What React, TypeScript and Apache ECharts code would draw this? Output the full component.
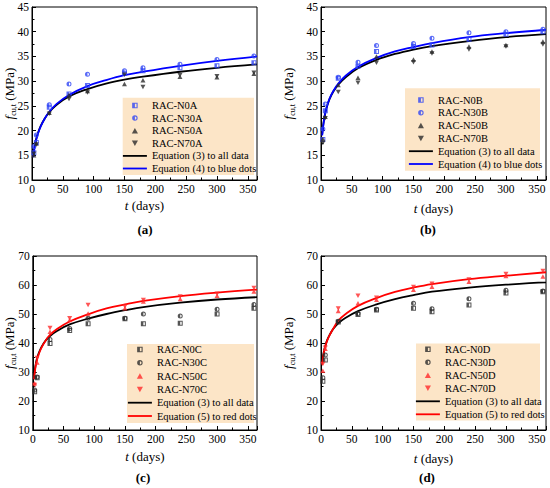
import React, { useEffect, useRef } from "react";
import * as echarts from "echarts";

// Test ages (days)
const ages = [3, 7, 28, 60, 90, 150, 180, 240, 300, 360];
const fitAges = [2, 3, 5, 7, 10, 14, 20, 28, 40, 60, 90, 120, 150, 180, 240, 300, 365];
const xTicks = [0, 50, 100, 150, 200, 250, 300, 350];

// Panel (a)
const n0A = [15.5, 17.6, 24.7, 27.4, 29.1, 31.6, 32.1, 32.7, 33.1, 33.7];
const n30A = [16.8, 19.1, 25.2, 29.4, 31.4, 32.1, 32.7, 33.4, 34.4, 35.1];
const n50A = [15.0, 17.4, 23.6, 27.2, 28.0, 29.4, 30.2, 30.9, 30.8, 31.5];
const n70A = [15.3, 17.2, 23.4, 26.4, 27.7, 31.3, 28.8, 31.2, 31.0, 31.7];
const eq3A = [14.8, 15.8, 17.3, 18.4, 19.6, 20.9, 22.3, 23.7, 25.2, 26.9, 28.4, 29.5, 30.3, 30.9, 31.9, 32.7, 33.4];
const eq4A = [14.6, 15.6, 17.1, 18.2, 19.5, 20.8, 22.3, 23.8, 25.4, 27.2, 29.0, 30.2, 31.2, 31.9, 33.1, 34.1, 35.0];

// Panel (b)
const n0B = [18.2, 24.0, 30.6, 33.0, 36.0, 37.0, 37.3, 38.5, 39.5, 40.0];
const n30B = [20.3, 25.4, 30.8, 33.8, 37.2, 37.6, 38.7, 39.8, 40.0, 40.5];
const n50B = [18.3, 22.8, 29.2, 30.7, 35.0, 34.4, 36.0, 37.0, 37.3, 38.0];
const n70B = [17.5, 22.5, 27.8, 29.7, 33.7, 33.8, 35.6, 36.4, 37.0, 37.4];
const eq3B = [19.3, 20.5, 22.3, 23.6, 25.0, 26.4, 27.9, 29.3, 30.8, 32.6, 34.3, 35.5, 36.4, 37.1, 38.1, 38.9, 39.5];
const eq4B = [19.0, 20.3, 22.2, 23.6, 25.0, 26.5, 28.0, 29.5, 31.1, 32.9, 34.7, 36.0, 36.9, 37.7, 38.9, 39.7, 40.4];

// Panel (c)
const n0C = [23.2, 28.0, 39.8, 44.3, 46.6, 48.4, 46.6, 46.8, 50.0, 52.0];
const n30C = [23.8, 28.3, 41.2, 45.0, 48.5, 48.5, 50.0, 49.3, 51.6, 53.3];
const n50C = [26.1, 33.3, 43.9, 47.9, 50.2, 52.0, 54.3, 55.2, 56.3, 57.8];
const n70C = [25.5, 34.8, 45.2, 48.5, 53.1, 52.6, 54.8, 56.0, 57.0, 59.0];
const eq3C = [28.0, 30.0, 33.0, 34.8, 36.7, 38.6, 40.6, 42.4, 44.2, 46.4, 48.4, 50.0, 51.3, 52.4, 53.9, 55.0, 55.8];
const eq5C = [27.5, 29.5, 32.5, 34.3, 36.3, 38.3, 40.5, 42.8, 44.9, 47.4, 49.9, 51.9, 53.3, 54.5, 56.2, 57.4, 58.4];

// Panel (d)
const n0D = [26.8, 34.1, 47.2, 49.8, 51.4, 52.0, 50.8, 53.1, 57.2, 57.7];
const n30D = [28.0, 35.9, 47.5, 50.2, 51.6, 53.7, 51.8, 55.3, 58.2, 57.9];
const n50D = [30.4, 38.0, 51.0, 53.7, 54.9, 58.4, 59.4, 61.1, 63.1, 62.9];
const n70D = [32.8, 38.4, 51.9, 56.3, 55.6, 59.3, 60.4, 61.9, 63.8, 64.8];
const eq3D = [33.0, 35.0, 37.5, 39.0, 41.0, 42.8, 44.9, 46.8, 48.7, 51.0, 53.3, 55.1, 56.5, 57.7, 59.1, 60.1, 60.9];
const eq5D = [32.5, 34.5, 37.0, 38.8, 40.8, 42.7, 45.0, 47.7, 50.0, 52.8, 55.5, 57.6, 59.1, 60.3, 62.0, 63.2, 64.4];

const EQ3 = "Equation (3) to all data";
const EQ4 = "Equation (4) to blue dots";
const EQ5 = "Equation (5) to red dots";

const FONT = "'Liberation Serif', 'Times New Roman', serif";
const BLUE = "#2f45f5";
const BLACK_M = "#2a2a2a";
const RED = "#ff2a2a";
const LEGEND_BG = "#fce5c7";

// Marker shapes (half-filled square / circle like the original plotting style)
const SQUARE_HALF = "path://M0,0H10V10H0Z M5,2V8H8V2Z";
const CIRCLE_HALF = "path://M5,0A5,5 0 1 1 5,10A5,5 0 1 1 5,0Z M5,2L5,8A3,3 0 0 0 5,2Z";
const TRI_UP = "path://M5,0L10,9H0Z";
const TRI_DOWN = "path://M0,0H10L5,9Z";

type Mk = { name: string; data: number[]; symbol: string; color: string };
type Fit = { name: string; data: number[]; color: string };

const panels = [
  {
    grid: { left: 32, top: 7, width: 225, height: 173 },
    y: { min: 10, max: 45, interval: 5 },
    yNameGap: 14.5, xNameGap: 18,
    caption: "(a)", cx: 145, cy: 229,
    box: { x: 122.7, y: 97.7, w: 131.3, h: 77.3 },
    legend: { left: 122, top: 99.5, gap: 0.6 },
    marks: [
      { name: "RAC-N0A", data: n0A, symbol: SQUARE_HALF, color: BLUE },
      { name: "RAC-N30A", data: n30A, symbol: CIRCLE_HALF, color: BLUE },
      { name: "RAC-N50A", data: n50A, symbol: TRI_UP, color: BLACK_M },
      { name: "RAC-N70A", data: n70A, symbol: TRI_DOWN, color: BLACK_M },
    ] as Mk[],
    fits: [
      { name: EQ3, data: eq3A, color: "#000" },
      { name: EQ4, data: eq4A, color: "#0000ff" },
    ] as Fit[],
  },
  {
    grid: { left: 321, top: 7, width: 225, height: 173 },
    y: { min: 10, max: 45, interval: 5 },
    yNameGap: 25, xNameGap: 21,
    caption: "(b)", cx: 428, cy: 229,
    box: { x: 405, y: 88.3, w: 135, h: 82.4 },
    legend: { left: 408, top: 94, gap: 0.8 },
    marks: [
      { name: "RAC-N0B", data: n0B, symbol: SQUARE_HALF, color: BLUE },
      { name: "RAC-N30B", data: n30B, symbol: CIRCLE_HALF, color: BLUE },
      { name: "RAC-N50B", data: n50B, symbol: TRI_UP, color: BLACK_M },
      { name: "RAC-N70B", data: n70B, symbol: TRI_DOWN, color: BLACK_M },
    ] as Mk[],
    fits: [
      { name: EQ3, data: eq3B, color: "#000" },
      { name: EQ4, data: eq4B, color: "#0000ff" },
    ] as Fit[],
  },
  {
    grid: { left: 32, top: 256, width: 225, height: 174 },
    y: { min: 10, max: 70, interval: 10 },
    yNameGap: 15.8, xNameGap: 19.5,
    caption: "(c)", cx: 143, cy: 477,
    box: { x: 127, y: 344, w: 127, h: 79 },
    legend: { left: 127, top: 343.5, gap: 1.3 },
    marks: [
      { name: "RAC-N0C", data: n0C, symbol: SQUARE_HALF, color: BLACK_M },
      { name: "RAC-N30C", data: n30C, symbol: CIRCLE_HALF, color: BLACK_M },
      { name: "RAC-N50C", data: n50C, symbol: TRI_UP, color: RED },
      { name: "RAC-N70C", data: n70C, symbol: TRI_DOWN, color: RED },
    ] as Mk[],
    fits: [
      { name: EQ3, data: eq3C, color: "#000" },
      { name: EQ5, data: eq5C, color: "#ff0000" },
    ] as Fit[],
  },
  {
    grid: { left: 321, top: 256, width: 225, height: 174 },
    y: { min: 10, max: 70, interval: 10 },
    yNameGap: 25, xNameGap: 21,
    caption: "(d)", cx: 427, cy: 477,
    box: { x: 416, y: 343.5, w: 124, h: 77 },
    legend: { left: 415, top: 343.3, gap: 1 },
    marks: [
      { name: "RAC-N0D", data: n0D, symbol: SQUARE_HALF, color: BLACK_M },
      { name: "RAC-N30D", data: n30D, symbol: CIRCLE_HALF, color: BLACK_M },
      { name: "RAC-N50D", data: n50D, symbol: TRI_UP, color: RED },
      { name: "RAC-N70D", data: n70D, symbol: TRI_DOWN, color: RED },
    ] as Mk[],
    fits: [
      { name: EQ3, data: eq3D, color: "#000" },
      { name: EQ5, data: eq5D, color: "#ff0000" },
    ] as Fit[],
  },
];

function buildOption() {
  const grid: any[] = [];
  const xAxis: any[] = [];
  const yAxis: any[] = [];
  const series: any[] = [];
  const legend: any[] = [];
  const graphic: any[] = [];

  const tickCommon = {
    axisLine: { show: true, onZero: false, lineStyle: { color: "#000", width: 1 } },
    axisTick: { show: true, inside: true, length: 4, lineStyle: { color: "#000", width: 1 } },
    minorTick: { show: true, splitNumber: 2, length: 2.5, lineStyle: { color: "#000", width: 1 } },
    splitLine: { show: false },
  };

  panels.forEach((p, i) => {
    grid.push({ ...p.grid, show: true, borderColor: "#000", borderWidth: 1, backgroundColor: "transparent" });
    xAxis.push({
      gridIndex: i,
      type: "value",
      min: 0,
      max: 365,
      interval: 50,
      ...tickCommon,
      axisLabel: {
        fontFamily: FONT,
        fontSize: 11.5,
        color: "#000",
        margin: 3,
        formatter: (v: number) => (xTicks.indexOf(v) >= 0 ? String(v) : ""),
      },
      name: "{i|t} (days)",
      nameLocation: "middle",
      nameGap: p.xNameGap,
      nameMoveOverlap: false,
      nameTextStyle: {
        fontFamily: FONT,
        fontSize: 13,
        color: "#000",
        lineHeight: 14,
        rich: { i: { fontFamily: FONT, fontSize: 13, fontStyle: "italic", color: "#000", lineHeight: 14 } },
      },
    });
    yAxis.push({
      gridIndex: i,
      type: "value",
      min: p.y.min,
      max: p.y.max,
      interval: p.y.interval,
      ...tickCommon,
      axisLabel: { fontFamily: FONT, fontSize: 11.5, color: "#000", margin: 3 },
      name: "{i|f}{s|cu,t} (MPa)",
      nameLocation: "middle",
      nameRotate: 90,
      nameGap: p.yNameGap,
      nameMoveOverlap: false,
      nameTextStyle: {
        fontFamily: FONT,
        fontSize: 13,
        color: "#000",
        lineHeight: 16,
        rich: {
          i: { fontFamily: FONT, fontSize: 13, fontStyle: "italic", color: "#000", lineHeight: 16, verticalAlign: "middle" },
          s: { fontFamily: FONT, fontSize: 8, color: "#000", lineHeight: 8, verticalAlign: "bottom" },
        },
      },
    });

    p.fits.forEach((f) => {
      series.push({
        type: "line",
        name: f.name,
        xAxisIndex: i,
        yAxisIndex: i,
        data: fitAges.map((t, k) => [t, f.data[k]]),
        smooth: 0.4,
        symbol: "none",
        showSymbol: false,
        lineStyle: { color: f.color, width: 1.8 },
        itemStyle: { color: f.color },
        z: 3,
        silent: true,
      });
    });
    p.marks.forEach((m) => {
      series.push({
        type: "scatter",
        name: m.name,
        xAxisIndex: i,
        yAxisIndex: i,
        data: ages.map((t, k) => [t, m.data[k]]),
        symbol: m.symbol,
        symbolSize: 5,
        symbolKeepAspect: true,
        itemStyle: { color: m.color },
        z: 4,
        silent: true,
      });
    });

    legend.push({
      orient: "vertical",
      left: p.legend.left,
      top: p.legend.top,
      padding: 0,
      itemWidth: 24,
      itemHeight: 5.5,
      itemGap: p.legend.gap,
      selectedMode: false,
      symbolKeepAspect: true,
      textStyle: { fontFamily: FONT, fontSize: 10.5, color: "#000", lineHeight: 12 },
      data: [
        ...p.marks.map((m) => ({ name: m.name, icon: m.symbol })),
        ...p.fits.map((f) => ({
          name: f.name,
          itemStyle: { color: "rgba(0,0,0,0)", borderWidth: 0, opacity: 0 },
          lineStyle: { color: f.color, width: 1.8 },
        })),
      ],
    });

    graphic.push({
      type: "rect",
      shape: { x: p.box.x, y: p.box.y, width: p.box.w, height: p.box.h },
      style: { fill: LEGEND_BG },
      z: 0,
      silent: true,
    });
    graphic.push({
      type: "text",
      x: p.cx,
      y: p.cy,
      style: {
        text: p.caption,
        font: `bold 13px ${FONT}`,
        fill: "#000",
        textAlign: "center",
        textVerticalAlign: "middle",
      },
      z: 5,
      silent: true,
    });
  });

  return {
    animation: false,
    backgroundColor: "#fff",
    grid,
    xAxis,
    yAxis,
    series,
    legend,
    graphic,
  };
}

export default function App() {
  const ref = useRef<HTMLDivElement>(null);
  useEffect(() => {
    if (!ref.current) return;
    const chart = echarts.init(ref.current, null, { renderer: "svg" });
    chart.setOption(buildOption() as any);
    return () => {
      chart.dispose();
    };
  }, []);
  return (
    <div
      ref={ref}
      style={{ position: "fixed", left: 0, top: 0, width: 550, height: 488, background: "#fff" }}
    />
  );
}
